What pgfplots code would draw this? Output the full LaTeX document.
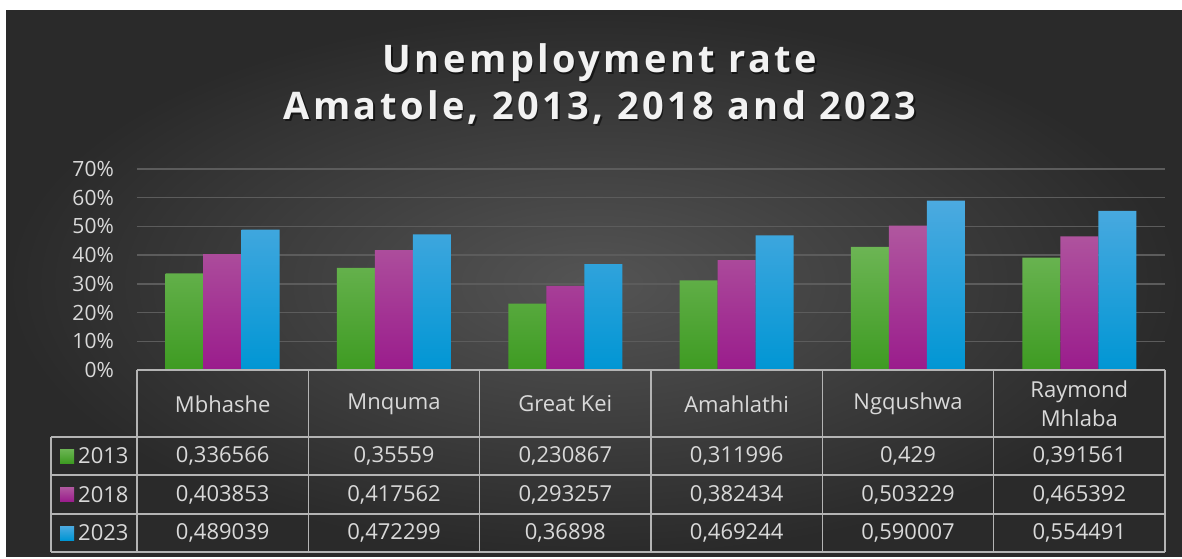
\documentclass[border=0pt]{standalone}
\usepackage{pgfplots}
\pgfplotsset{compat=1.18}
\usepackage{pgfplotstable}
\usepackage{fontspec}
\setmainfont{Open Sans}
\newfontfamily\titlefont[LetterSpace=9]{Open Sans}
\definecolor{bgc}{HTML}{545454}
\definecolor{bge}{HTML}{2A2A2A}
\definecolor{gridc}{HTML}{5C5C5C}
\definecolor{tbl}{HTML}{B4B4B4}
\definecolor{txt}{HTML}{D9D9D9}
\definecolor{gtop}{HTML}{6CB554}
\definecolor{gbot}{HTML}{3E9B22}
\definecolor{ptop}{HTML}{B0579F}
\definecolor{pbot}{HTML}{9A1C8C}
\definecolor{btop}{HTML}{4CAAE0}
\definecolor{bbot}{HTML}{0096D4}

\pgfplotstableread{
x y13 y18 y23
0 0.336566 0.403853 0.489039
1 0.35559 0.417562 0.472299
2 0.230867 0.293257 0.36898
3 0.311996 0.382434 0.469244
4 0.429 0.503229 0.590007
5 0.391561 0.465392 0.554491
}\data

\begin{document}
\begin{tikzpicture}[x=1pt,y=1pt]
\useasboundingbox (0,0) rectangle (1182,558);
\fill[white] (0,0) rectangle (1182,558);
\shade[inner color=bgc, outer color=bge] (6,2) rectangle (1182,547);

% title
\foreach \t/\yy in {{Unemployment rate}/485,{Amatole, 2013, 2018 and 2023}/438}{
  \node[anchor=base, text=black, opacity=0.55, font=\titlefont\bfseries\fontsize{38}{44}\selectfont] at (601.5,\yy-2) {\t};
  \node[anchor=base, text=white!95!black, font=\titlefont\bfseries\fontsize{38}{44}\selectfont] at (600,\yy) {\t};
}

\begin{axis}[
  at={(137pt,188pt)}, anchor=south west,
  scale only axis, width=1028pt, height=201pt,
  xmin=-0.5, xmax=5.5, ymin=0, ymax=0.7,
  ybar=0pt, bar width=38pt,
  axis line style={draw=none},
  major tick length=0pt,
  ytick={0,0.1,0.2,0.3,0.4,0.5,0.6,0.7},
  yticklabels={0\%,10\%,20\%,30\%,40\%,50\%,60\%,70\%},
  ymajorgrids, grid style={draw=gridc, line width=1.5pt},
  xtick={0,1,2,3,4,5},
  xticklabels={Mbhashe,Mnquma,Great Kei,Amahlathi,Ngqushwa,{Raymond\\Mhlaba}},
  xticklabel style={anchor=center, yshift=-34pt, align=center, text=txt,
     font=\fontsize{22}{29}\selectfont},
  yticklabel style={anchor=east, inner sep=0pt, xshift=-23pt, text=txt,
     font=\fontsize{21}{24}\selectfont},
  clip=false,
]
\addplot[draw=none, top color=gtop, bottom color=gbot] table[x=x,y=y13]{\data};
\addplot[draw=none, top color=ptop, bottom color=pbot] table[x=x,y=y18]{\data};
\addplot[draw=none, top color=btop, bottom color=bbot] table[x=x,y=y23]{\data};
\end{axis}

% data table
\begin{scope}[draw=tbl, line width=1.6pt]
\draw (137,188)--(1165,188);
\foreach \yy in {121,83,44,6} \draw (51,\yy)--(1165,\yy);
\foreach \k in {0,...,6} \draw (137+171.333*\k,188)--(137+171.333*\k,6);
\draw (51,121)--(51,6);
\end{scope}

\tikzset{cell/.style={text=txt, font=\fontsize{22}{26}\selectfont, anchor=center}}
\foreach \v [count=\i from 0] in {{0,336566},{0,35559},{0,230867},{0,311996},{0,429},{0,391561}}{
  \node[cell] at (222.67+171.333*\i,102) {\v};}
\foreach \v [count=\i from 0] in {{0,403853},{0,417562},{0,293257},{0,382434},{0,503229},{0,465392}}{
  \node[cell] at (222.67+171.333*\i,63.5) {\v};}
\foreach \v [count=\i from 0] in {{0,489039},{0,472299},{0,36898},{0,469244},{0,590007},{0,554491}}{
  \node[cell] at (222.67+171.333*\i,25) {\v};}

% legend keys
\shade[top color=gtop, bottom color=gbot] (60,95) rectangle (74,109);
\shade[top color=ptop, bottom color=pbot] (60,56.5) rectangle (74,70.5);
\shade[top color=btop, bottom color=bbot] (60,18) rectangle (74,32);
\node[cell, anchor=west, inner sep=0pt] at (78,102) {2013};
\node[cell, anchor=west, inner sep=0pt] at (78,63.5) {2018};
\node[cell, anchor=west, inner sep=0pt] at (78,25) {2023};
\end{tikzpicture}
\end{document}
